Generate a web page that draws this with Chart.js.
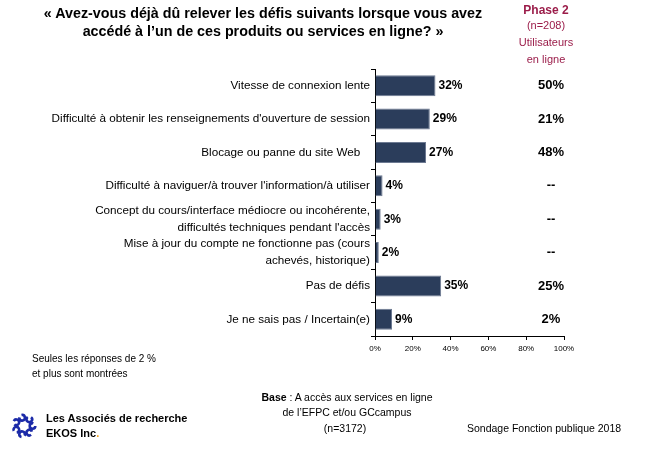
<!DOCTYPE html>
<html>
<head>
<meta charset="utf-8">
<script src="https://cdn.jsdelivr.net/npm/chart.js@4"></script>
<style>
  body { margin: 0; background: #fff; }
  #wrap { position: relative; width: 650px; height: 450px; font-family: "Liberation Sans", Arial, sans-serif; }
  #myChart { position: absolute; left: 0; top: 0; }
  .t { position: absolute; white-space: nowrap; line-height: 1; }
  .c { transform: translateX(-50%); text-align: center; }
  .phase { color: #9b1d4a; }
</style>
</head>
<body>
<div id="wrap">
  <canvas id="myChart" width="650" height="450"></canvas>

  <div class="t c" style="left:263px; top:6px; font-size:14.3px; font-weight:bold;">« Avez-vous déjà dû relever les défis suivants lorsque vous avez</div>
  <div class="t c" style="left:263px; top:24px; font-size:14.3px; font-weight:bold;">accédé à l’un de ces produits ou services en ligne? »</div>

  <div class="t c phase" style="left:546px; top:4px; font-size:12px; font-weight:bold;">Phase 2</div>
  <div class="t c phase" style="left:546px; top:20px; font-size:11px;">(n=208)</div>
  <div class="t c phase" style="left:546px; top:37px; font-size:11px;">Utilisateurs</div>
  <div class="t c phase" style="left:546px; top:54px; font-size:11px;">en ligne</div>

  <div class="t" style="left:32px; top:354px; font-size:10px;">Seules les réponses de 2 %</div>
  <div class="t" style="left:32px; top:369px; font-size:10px;">et plus sont montrées</div>

  <div class="t c" style="left:347px; top:392px; font-size:10.5px;"><b>Base</b> : A accès aux services en ligne</div>
  <div class="t c" style="left:347px; top:407px; font-size:10.5px;">de l’EFPC et/ou GCcampus</div>
  <div class="t c" style="left:345px; top:423px; font-size:10.5px;">(n=3172)</div>

  <canvas id="logo" width="26" height="28" style="position:absolute; left:11px; top:412px;"></canvas>
  <div class="t" style="left:46px; top:413px; font-size:11px; font-weight:bold;">Les Associés de recherche</div>
  <div class="t" style="left:46px; top:428px; font-size:11px; font-weight:bold;">EKOS Inc<span style="color:#f0a020">.</span></div>

  <div class="t" style="left:467px; top:423px; font-size:10.5px;">Sondage Fonction publique 2018</div>
</div>

<script>
// categories and values
const categories = [
  'Vitesse de connexion lente',
  'Difficulté à obtenir les renseignements d\'ouverture de session',
  'Blocage ou panne du site Web   ',
  'Difficulté à naviguer/à trouver l\'information/à utiliser',
  ['Concept du cours/interface médiocre ou incohérente,', 'difficultés techniques pendant l\'accès'],
  ['Mise à jour du compte ne fonctionne pas (cours', 'achevés, historique)'],
  'Pas de défis',
  'Je ne sais pas / Incertain(e)'
];
const values = [32, 29, 27, 4, 3, 2, 35, 9];
const phase2 = [50, 21, 48, null, null, null, 25, 2];
const xTicks = [0, 20, 40, 60, 80, 100];

const ctx = document.getElementById('myChart');

// value labels at bar ends + Phase 2 column
const labelsPlugin = {
  id: 'labelsPlugin',
  afterDatasetsDraw(chart) {
    const c = chart.ctx;
    const meta = chart.getDatasetMeta(0);
    const yScale = chart.scales.y;
    c.save();
    c.fillStyle = '#000';
    c.textBaseline = 'middle';
    meta.data.forEach((bar, i) => {
      c.font = 'bold 12px "Liberation Sans", Arial, sans-serif';
      c.textAlign = 'left';
      c.fillText(values[i] + '%', bar.x + 3, bar.y);
      const y = yScale.getPixelForValue(i);
      c.font = 'bold 13px "Liberation Sans", Arial, sans-serif';
      c.textAlign = 'center';
      c.fillText(phase2[i] === null ? '--' : phase2[i] + '%', 551, y);
    });
    c.restore();
  }
};

const myChart = new Chart(ctx, {
  type: 'bar',
  data: {
    labels: categories,
    datasets: [{
      label: 'Fonction publique 2018',
      data: values,
      backgroundColor: '#2b3d5b',
      borderColor: '#6d7a92',
      borderWidth: 1,
      barPercentage: 0.63,
      categoryPercentage: 1
    }]
  },
  options: {
    indexAxis: 'y',
    responsive: false,
    animation: false,
    layout: { padding: { top: 69, right: 86, left: 0, bottom: 0 } },
    plugins: {
      legend: { display: false },
      tooltip: { enabled: false }
    },
    scales: {
      x: {
        min: 0,
        max: 100,
        afterFit(scale) { scale.height = 114; },
        afterBuildTicks(scale) { scale.ticks = xTicks.map(v => ({ value: v })); },
        grid: { drawOnChartArea: false, tickLength: 4, color: '#000' },
        border: { color: '#000', width: 1 },
        ticks: {
          padding: 4,
          color: '#000',
          font: { family: '"Liberation Sans", Arial, sans-serif', size: 8 },
          callback: (v) => v + '%'
        }
      },
      y: {
        afterFit(scale) { scale.width = 375; },
        grid: { drawOnChartArea: false, tickLength: 4, color: '#000', offset: true },
        border: { color: '#000', width: 1 },
        ticks: {
          autoSkip: false,
          padding: 1,
          color: '#000',
          font: { family: '"Liberation Sans", Arial, sans-serif', size: 11.7, lineHeight: 1.45 }
        }
      }
    }
  },
  plugins: [labelsPlugin]
});

// small swirl logo
const lg = document.getElementById('logo').getContext('2d');
lg.strokeStyle = '#1b2aa8';
lg.lineWidth = 2.6;
for (let k = 0; k < 7; k++) {
  const a = k * 2 * Math.PI / 7;
  const cx = 13 + 8.5 * Math.cos(a), cy = 14 + 8.5 * Math.sin(a);
  lg.beginPath();
  lg.arc(cx, cy, 2.8, a, a + 1.6 * Math.PI);
  lg.stroke();
}
</script>
</body>
</html>
